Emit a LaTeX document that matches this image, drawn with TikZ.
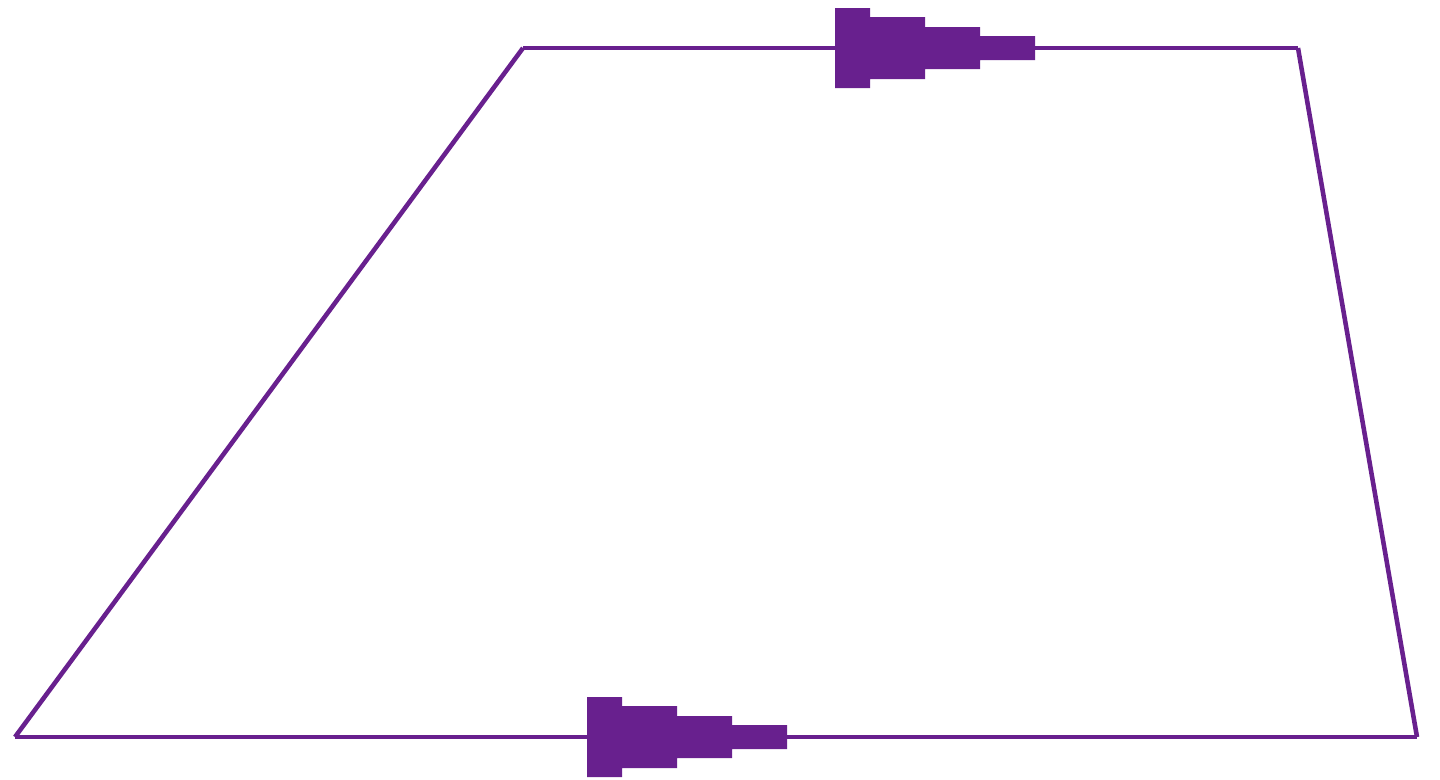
\documentclass[tikz,border=0pt]{standalone}
\definecolor{plum}{RGB}{104,32,142}

\tikzset{
  edge/.style={draw=plum, line width=2.6pt},
  pics/steparrow/.style={code={
    \fill[plum] (0,-40) -- (35,-40) -- (35,-31) -- (90,-31) -- (90,-21)
      -- (145,-21) -- (145,-12) -- (200,-12) -- (200,12) -- (145,12)
      -- (145,21) -- (90,21) -- (90,31) -- (35,31) -- (35,40) -- (0,40) -- cycle;
  }}
}

\begin{document}
\begin{tikzpicture}[x=0.02cm,y=-0.02cm]
    \useasboundingbox (0,0) rectangle (1440,779);

    \coordinate (BL) at (15,737);
    \coordinate (BR) at (1417,737);
    \coordinate (TR) at (1298,48);
    \coordinate (TL) at (523,48);

    \draw [edge] (BL) -- (BR);
    \draw [edge] (BR) -- (TR);
    \draw [edge] (TR) -- (TL);
    \draw [edge] (TL) -- (BL);

    \pic at (835,48) {steparrow};
    \pic at (587,737) {steparrow};
\end{tikzpicture}
\end{document}
